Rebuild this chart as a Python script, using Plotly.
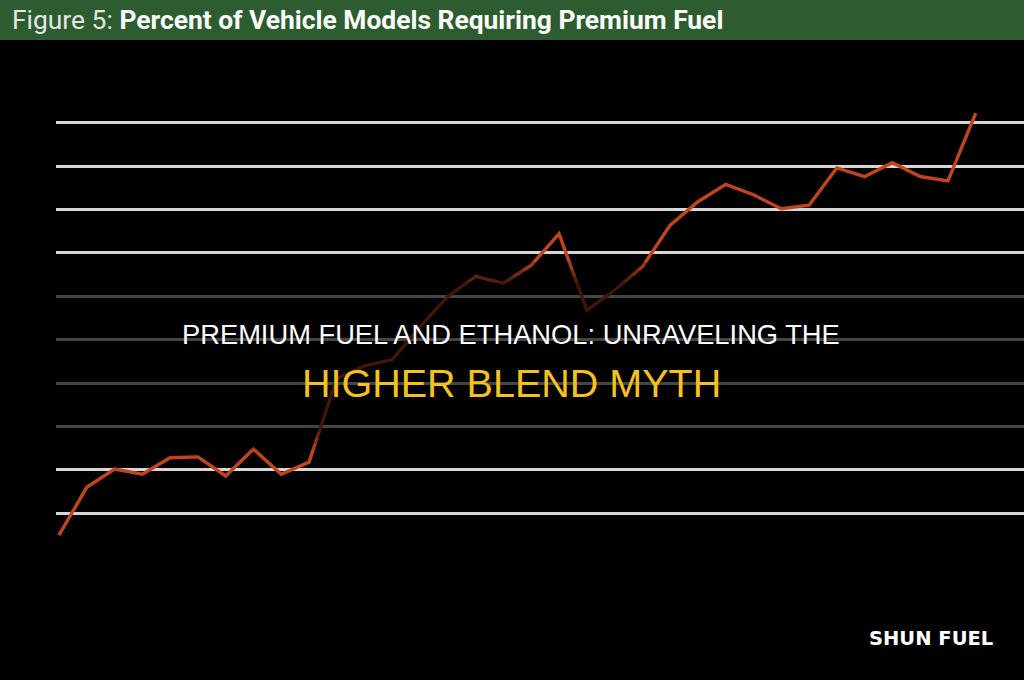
import plotly.graph_objects as go

# ---- data (percent of vehicle models requiring premium fuel) ----
years_idx = list(range(34))
premium_pct = [2.5, 8.0, 10.1, 9.5, 11.4, 11.5, 9.3, 12.4, 9.5, 10.9,
               20.5, 22.0, 22.7, 26.5, 30.0, 32.3, 31.5, 33.6, 37.2, 28.4,
               30.7, 33.4, 38.2, 40.9, 42.9, 41.7, 40.1, 40.5, 44.8, 43.8,
               45.4, 43.8, 43.3, 51.1]
grid_values = [5, 10, 15, 20, 25, 30, 35, 40, 45, 50]

header_light = "Figure 5: "
header_bold = "Percent of Vehicle Models Requiring Premium Fuel"
title_line1 = "PREMIUM FUEL AND ETHANOL: UNRAVELING THE"
title_line2 = "HIGHER BLEND MYTH"
brand = "SHUN FUEL"

W, H = 1024, 680
L = 56


def px2paper(px):
    return (px - L) / (W - L)


def py2paper(py):
    return 1 - py / H


fig = go.Figure()
fig.add_trace(go.Scatter(
    x=years_idx, y=premium_pct, mode="lines",
    line=dict(color="#c0451f", width=3.4),
    hoverinfo="skip", showlegend=False,
))

shapes = []
# dark vignette band across the middle (soft edges)
band = [(262, 270, 0.2), (270, 276, 0.4), (276, 282, 0.55), (282, 432, 0.68),
        (432, 438, 0.5), (438, 444, 0.3), (444, 450, 0.12)]
for y0, y1, op in band:
    shapes.append(dict(type="rect", xref="paper", yref="paper",
                       x0=px2paper(0), x1=px2paper(W), y0=py2paper(y1), y1=py2paper(y0),
                       fillcolor=f"rgba(0,0,0,{op})", line=dict(width=0), layer="above"))
# header bar
shapes.append(dict(type="rect", xref="paper", yref="paper",
                   x0=px2paper(0), x1=px2paper(W), y0=py2paper(40), y1=py2paper(0),
                   fillcolor="#2c5c2f", line=dict(width=0), layer="above"))

annotations = [
    dict(text=f"<span style='color:#e6e6e6'>{header_light}</span><b>{header_bold}</b>",
         xref="paper", yref="paper", x=px2paper(10), y=py2paper(20),
         xanchor="left", yanchor="middle", showarrow=False,
         font=dict(family="Roboto", size=26.4, color="#ffffff")),
    dict(text=title_line1, xref="paper", yref="paper", x=px2paper(511), y=py2paper(334),
         xanchor="center", yanchor="middle", showarrow=False,
         font=dict(family="Liberation Sans", size=27.3, color="#ffffff")),
    dict(text=title_line2, xref="paper", yref="paper", x=px2paper(511), y=py2paper(383),
         xanchor="center", yanchor="middle", showarrow=False,
         font=dict(family="Liberation Sans", size=39.5, color="#f4c21c")),
    dict(text=f"<b>{brand}</b>", xref="paper", yref="paper", x=px2paper(931), y=py2paper(638),
         xanchor="center", yanchor="middle", showarrow=False,
         font=dict(family="DejaVu Sans", size=19.5, color="#ffffff")),
]

# axis ranges chosen so the gridlines sit where the picture has them
x_lo, x_hi = -0.108, 34.737
y_lo, y_hi = -14.2, 64.14

fig.update_layout(
    width=W, height=H,
    margin=dict(l=L, r=0, t=0, b=0),
    paper_bgcolor="#000000", plot_bgcolor="#000000",
    xaxis=dict(range=[x_lo, x_hi], showgrid=False, zeroline=False,
               showticklabels=False, ticks="", showline=False),
    yaxis=dict(range=[y_lo, y_hi], tickvals=grid_values, showgrid=True,
               gridcolor="#d6d6d6", gridwidth=3, zeroline=False,
               showticklabels=False, ticks="", showline=False),
    shapes=shapes, annotations=annotations,
)

fig.write_html("out.html", config={"displayModeBar": False})
